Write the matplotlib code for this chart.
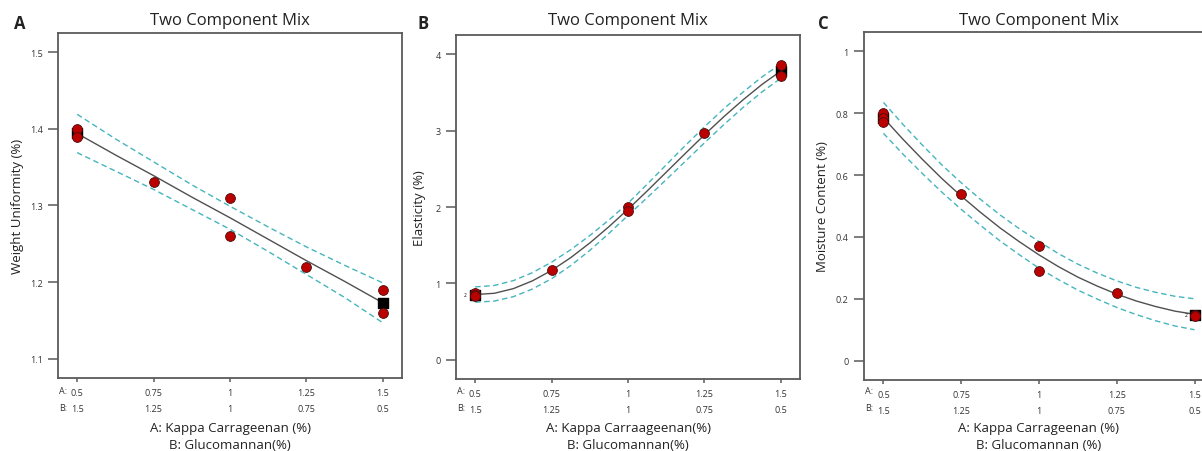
import matplotlib
matplotlib.use("Agg")
import matplotlib.pyplot as plt
import numpy as np

plt.rcParams['font.family'] = ['Open Sans', 'DejaVu Sans']

# ---------------- data ----------------
tick_A = [0.5, 0.75, 1.0, 1.25, 1.5]
tick_A_lbl = ["0.5", "0.75", "1", "1.25", "1.5"]
tick_B_lbl = ["1.5", "1.25", "1", "0.75", "0.5"]

# fitted-curve sample positions (component A)
cx_A = [0.5, 0.625, 0.75, 0.875, 1.0, 1.125, 1.25, 1.375, 1.5]
cx_fine = [0.5, 0.5625, 0.625, 0.6875, 0.75, 0.8125, 0.875, 0.9375, 1.0,
           1.0625, 1.125, 1.1875, 1.25, 1.3125, 1.375, 1.4375, 1.5]

# Panel A: Weight Uniformity
wu_x = [0.5, 0.5, 0.75, 1.0, 1.0, 1.25, 1.5, 1.5]
wu_y = [1.40, 1.39, 1.33, 1.31, 1.26, 1.22, 1.19, 1.16]
wu_fit = [1.394, 1.366, 1.339, 1.311, 1.284, 1.256, 1.228, 1.201, 1.173]
wu_hw = [0.025, 0.021, 0.018, 0.016, 0.015, 0.016, 0.018, 0.021, 0.026]
wu_sq_x = [0.5, 1.5]
wu_sq_y = [1.395, 1.173]

# Panel B: Elasticity
el_x = [0.5, 0.5, 0.5, 0.75, 1.0, 1.0, 1.25, 1.5, 1.5]
el_y = [0.87, 0.85, 0.84, 1.17, 2.00, 1.95, 2.97, 3.86, 3.71]
el_fit = [0.855, 0.871, 0.932, 1.034, 1.170, 1.337, 1.529, 1.742, 1.970,
          2.209, 2.455, 2.701, 2.944, 3.178, 3.398, 3.601, 3.780]
el_hw = [0.100, 0.102, 0.105, 0.107, 0.108, 0.104, 0.097, 0.088, 0.080,
         0.088, 0.097, 0.103, 0.105, 0.104, 0.101, 0.098, 0.095]
el_sq_x = [0.5, 1.5]
el_sq_y = [0.855, 3.78]

# Panel C: Moisture Content
mc_x = [0.5, 0.5, 0.5, 0.75, 1.0, 1.0, 1.25, 1.5, 1.5]
mc_y = [0.80, 0.785, 0.77, 0.54, 0.37, 0.29, 0.22, 0.148, 0.145]
mc_fit = [0.785, 0.716, 0.651, 0.589, 0.532, 0.479, 0.429, 0.384, 0.342,
          0.304, 0.270, 0.241, 0.215, 0.193, 0.175, 0.160, 0.150]
mc_hw = [0.050, 0.048, 0.046, 0.044, 0.043, 0.042, 0.042, 0.042, 0.043,
         0.042, 0.042, 0.042, 0.043, 0.044, 0.046, 0.048, 0.050]
mc_sq_x = [0.5, 1.5]
mc_sq_y = [0.785, 0.148]

W, H = 1202, 452
fig = plt.figure(figsize=(W / 100, H / 100), dpi=100)

def px_axes(left, right, top, bottom):
    return fig.add_axes([left / W, (H - bottom) / H, (right - left) / W, (bottom - top) / H])

panels = [
    dict(box=(58, 402, 34, 379), letter="A", lx=20, ylab_x=24,
         x=wu_x, y=wu_y, cx=cx_A, fit=wu_fit, hw=wu_hw, sqx=wu_sq_x, sqy=wu_sq_y,
         ylim=(1.075, 1.525), yticks=[1.1, 1.2, 1.3, 1.4, 1.5],
         yticklabels=["1.1", "1.2", "1.3", "1.4", "1.5"],
         ylabel="Weight Uniformity (%)",
         xlabel="A: Kappa Carrageenan (%)\nB: Glucomannan(%)", mult=None),
    dict(box=(456, 800, 36, 380), letter="B", lx=423, ylab_x=426,
         x=el_x, y=el_y, cx=cx_fine, fit=el_fit, hw=el_hw, sqx=el_sq_x, sqy=el_sq_y,
         ylim=(-0.25, 4.25), yticks=[0, 1, 2, 3, 4],
         yticklabels=["0", "1", "2", "3", "4"],
         ylabel="Elasticity (%)",
         xlabel="A: Kappa Carraageenan(%)\nB: Glucomannan(%)", mult=(0.468, 0.855)),
    dict(box=(864, 1214, 33, 381), letter="C", lx=823, ylab_x=829,
         x=mc_x, y=mc_y, cx=cx_fine, fit=mc_fit, hw=mc_hw, sqx=mc_sq_x, sqy=mc_sq_y,
         ylim=(-0.0625, 1.0625), yticks=[0, 0.2, 0.4, 0.6, 0.8, 1.0],
         yticklabels=["0", "0.2", "0.4", "0.6", "0.8", "1"],
         ylabel="Moisture Content (%)",
         xlabel="A: Kappa Carrageenan (%)\nB: Glucomannan (%)", mult=(1.472, 0.15)),
]

spine_col = "#5a5a5a"
band_col = "#45b5bd"
red = "#bb0000"
txt = "#333333"

for p in panels:
    l, r, t, b = p["box"]
    ax = px_axes(l, r, t, b)
    ax.set_xlim(0.4375, 1.5625)
    ax.set_ylim(*p["ylim"])
    for s in ax.spines.values():
        s.set_color(spine_col)
        s.set_linewidth(1.3)
    fit = np.array(p["fit"])
    hw = np.array(p["hw"])
    ax.plot(p["cx"], fit + hw, color=band_col, lw=1.0, ls=(0, (4, 2.5)), zorder=2)
    ax.plot(p["cx"], fit - hw, color=band_col, lw=1.0, ls=(0, (4, 2.5)), zorder=2)
    ax.plot(p["cx"], fit, color="#505050", lw=1.0, zorder=3)
    ax.scatter(p["sqx"], p["sqy"], marker="s", s=55, color="black", zorder=4)
    ax.scatter(p["x"], p["y"], s=50, color=red, edgecolors="#4a1010", linewidths=0.6, zorder=5)
    if p["mult"] is not None:
        ax.text(p["mult"][0], p["mult"][1], "2", fontsize=3.5, ha="center", va="center",
                color="black", zorder=6)
    ax.set_yticks(p["yticks"])
    ax.set_yticklabels(p["yticklabels"], fontsize=6.5, color=txt)
    ax.tick_params(axis="y", direction="out", length=7, width=1.1, color=spine_col, pad=4)
    ax.set_xticks(tick_A)
    ax.set_xticklabels([a + "\n" + bb for a, bb in zip(tick_A_lbl, tick_B_lbl)],
                       fontsize=6.5, color=txt, linespacing=2.0)
    ax.tick_params(axis="x", direction="out", length=3, width=1.1, color=spine_col, pad=4)
    fig.text((l + 1) / W, 1 - 392 / H, "A:", fontsize=6.5, color=txt, va="center", ha="left")
    fig.text((l + 1) / W, 1 - 409 / H, "B:", fontsize=6.5, color=txt, va="center", ha="left")
    ax.set_ylabel(p["ylabel"], fontsize=9.5, color="#222222")
    ax.yaxis.set_label_coords((p["ylab_x"] - l) / (r - l), 0.5)
    cxp = (l + r) / 2
    fig.text(cxp / W, 1 - 437 / H, p["xlabel"], fontsize=9.5, color="#222222",
             ha="center", va="center", linespacing=1.35)
    fig.text(cxp / W, 1 - 21 / H, "Two Component Mix", fontsize=12, color="#222222",
             ha="center", va="center")
    fig.text(p["lx"] / W, 1 - 24 / H, p["letter"], fontsize=12, fontweight="bold",
             color="#222222", ha="center", va="center")

fig.savefig("out.png", dpi=100)
